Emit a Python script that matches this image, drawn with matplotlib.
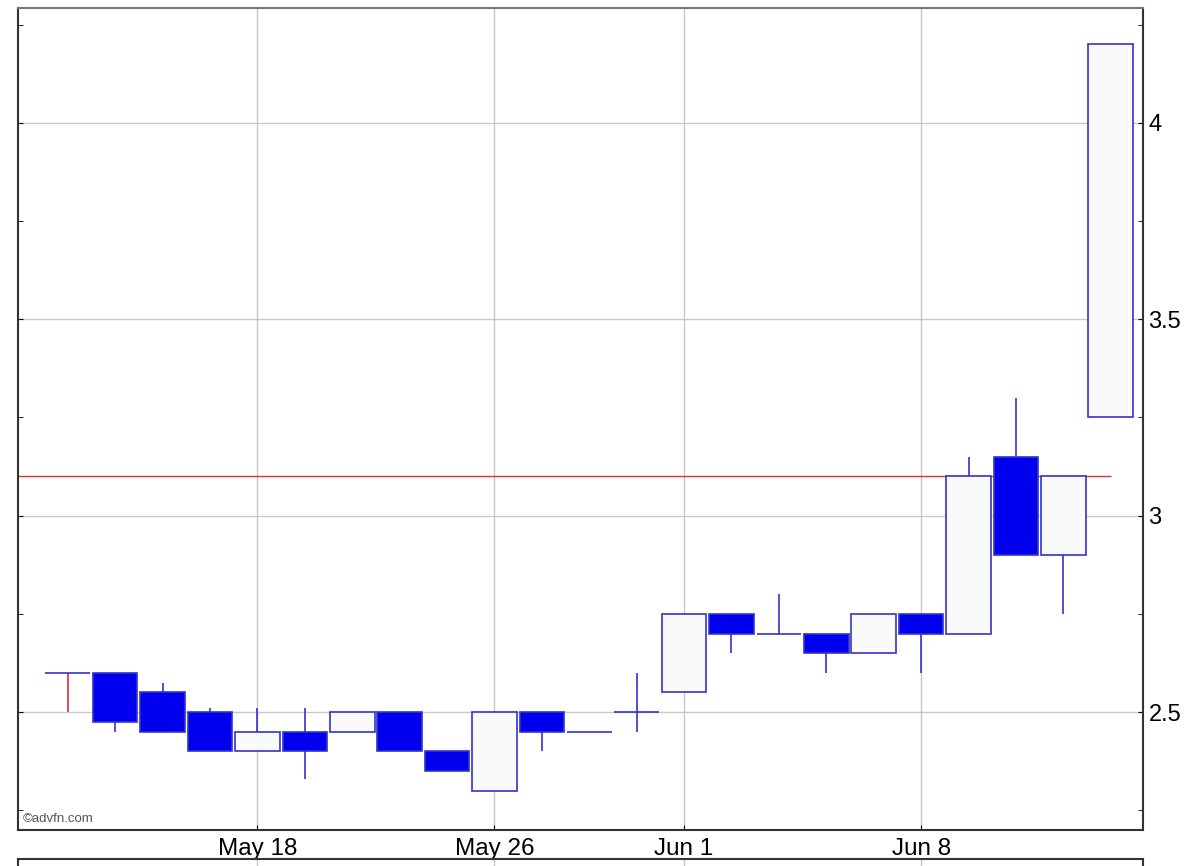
import matplotlib
matplotlib.use("Agg")
import matplotlib.pyplot as plt
from matplotlib.ticker import FixedLocator, MultipleLocator

plt.rcParams['font.family'] = ['Liberation Sans', 'DejaVu Sans']

# daily OHLC, May 12 - Jun 12
dates = ['May 12', 'May 13', 'May 14', 'May 15', 'May 18', 'May 19', 'May 20',
         'May 21', 'May 22', 'May 26', 'May 27', 'May 28', 'May 29', 'Jun 1',
         'Jun 2', 'Jun 3', 'Jun 4', 'Jun 5', 'Jun 8', 'Jun 9', 'Jun 10',
         'Jun 11', 'Jun 12']
opens = [2.60, 2.60, 2.55, 2.50, 2.40, 2.45, 2.45, 2.50, 2.40, 2.30, 2.50, 2.45,
         2.50, 2.55, 2.75, 2.70, 2.70, 2.65, 2.75, 2.70, 3.15, 2.90, 3.25]
highs = [2.60, 2.60, 2.575, 2.51, 2.51, 2.51, 2.50, 2.50, 2.40, 2.50, 2.50, 2.45,
         2.60, 2.75, 2.75, 2.80, 2.70, 2.75, 2.75, 3.15, 3.30, 3.10, 4.20]
lows = [2.50, 2.45, 2.45, 2.40, 2.40, 2.33, 2.45, 2.40, 2.35, 2.30, 2.40, 2.45,
        2.45, 2.55, 2.65, 2.70, 2.60, 2.65, 2.60, 2.70, 2.90, 2.75, 3.25]
closes = [2.60, 2.475, 2.45, 2.40, 2.45, 2.40, 2.50, 2.40, 2.35, 2.50, 2.45, 2.45,
          2.50, 2.75, 2.70, 2.70, 2.65, 2.75, 2.70, 3.10, 2.90, 3.10, 4.20]
prev_close = 3.10
tick_labels = ['May 18', 'May 26', 'Jun 1', 'Jun 8']

edge = '#3333cc'
width = 0.94
x = list(range(len(dates)))

fig = plt.figure(figsize=(12, 8.66), dpi=100)
ax = fig.add_axes([18 / 1200, 36 / 866, 1125 / 1200, 822 / 866])

# wicks
for i in x:
    wc = '#d03030' if i == 0 else edge
    ax.vlines(i, lows[i], highs[i], color=wc, linewidth=1.2, zorder=2)

# bodies
for i in x:
    o, c = opens[i], closes[i]
    if abs(c - o) < 1e-9:
        ax.hlines(o, i - width / 2, i + width / 2, color=edge, linewidth=1.2, zorder=3)
    elif c > o:
        ax.bar(i, c - o, bottom=o, width=width, color='#fafafa', edgecolor=edge,
               linewidth=1.2, zorder=3)
    else:
        ax.bar(i, o - c, bottom=c, width=width, color='#0000ee', edgecolor=edge,
               linewidth=1.2, zorder=3)

# previous close line
ax.hlines(prev_close, -1.05, x[-1], color='#e03030', linewidth=1, zorder=1)

ax.set_xlim(-1.05, 22.68)
ax.set_ylim(2.2, 4.292)

tick_pos = [dates.index(t) for t in tick_labels]
ax.xaxis.set_major_locator(FixedLocator(tick_pos))
ax.set_xticklabels(tick_labels, fontsize=17.5)
ax.yaxis.set_major_locator(MultipleLocator(0.5))
ax.yaxis.set_minor_locator(MultipleLocator(0.25))
ax.yaxis.set_major_formatter(plt.FuncFormatter(lambda v, p: f'{v:g}'))
ax.tick_params(axis='y', which='both', direction='in', left=True, right=True,
               labelleft=False, labelright=True, labelsize=17, length=3.5, pad=4)
ax.tick_params(axis='x', direction='in', length=3.5, pad=6)
ax.grid(True, color='#c8c8c8', linewidth=1, zorder=0)
ax.set_axisbelow(True)
for s in ax.spines.values():
    s.set_color('#333333')
    s.set_linewidth(1.5)
ax.spines['top'].set_color('#777777')

ax.text(-0.95, 2.212, '\u00a9advfn.com', fontsize=9.5,
        color='#555555', ha='left', va='bottom')

# top of lower (volume) panel, cut off by figure edge
ax2 = fig.add_axes([18 / 1200, -40 / 866, 1125 / 1200, 47 / 866])
ax2.set_xlim(-1.05, 22.68)
ax2.xaxis.set_major_locator(FixedLocator(tick_pos))
ax2.set_xticklabels([])
ax2.set_yticks([])
ax2.tick_params(axis='x', length=0)
ax2.grid(True, axis='x', color='#c8c8c8', linewidth=1)
for s in ax2.spines.values():
    s.set_color('#333333')
    s.set_linewidth(1.5)

fig.savefig('out.png', dpi=100)
